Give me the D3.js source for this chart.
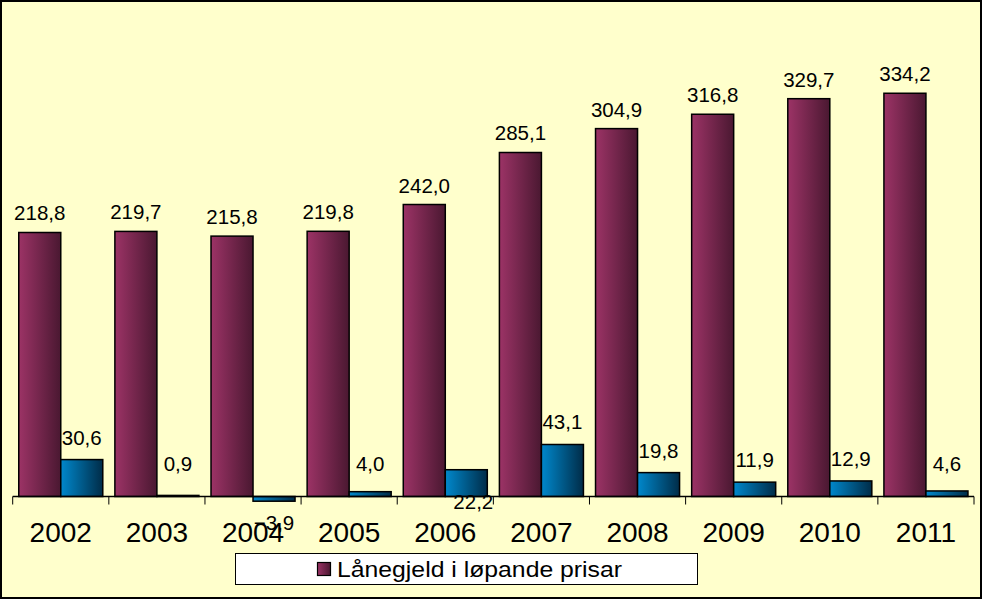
<!DOCTYPE html>
<html>
<head>
<meta charset="utf-8">
<script src="https://cdn.jsdelivr.net/npm/d3@7"></script>
<style>
html,body{margin:0;padding:0;background:#fff;}
svg{display:block;font-family:"Liberation Sans",Arial,sans-serif;}
</style>
</head>
<body>
<svg id="chart" width="982" height="599"></svg>
<script>
// ---- data ----
const years = ["2002","2003","2004","2005","2006","2007","2008","2009","2010","2011"];
const debt = [218.8,219.7,215.8,219.8,242.0,285.1,304.9,316.8,329.7,334.2];
const change = [30.6,0.9,-3.9,4.0,22.2,43.1,19.8,11.9,12.9,4.6];
const legendLabels = ["Lånegjeld i løpande prisar"];
const yDomain = [0, 400];

const svg = d3.select("#chart");
const W = 982, H = 599;

const locale = d3.formatLocale({decimal: ",", thousands: " ", grouping: [3], currency: ["", ""]});
const fmt = locale.format(".1f");

// gradients
const defs = svg.append("defs");
function grad(id, c1, c2) {
  const g = defs.append("linearGradient").attr("id", id).attr("x1", "0%").attr("x2", "100%").attr("y1", "0%").attr("y2", "0%");
  g.append("stop").attr("offset", "0%").attr("stop-color", c1);
  g.append("stop").attr("offset", "100%").attr("stop-color", c2);
}
grad("gMaroon", "#9c3366", "#4a1831");
grad("gBlue", "#0088cc", "#002c48");

// background
svg.append("rect").attr("x", 1).attr("y", 1).attr("width", W - 2).attr("height", H - 2)
  .attr("fill", "#ffffcc").attr("stroke", "#000").attr("stroke-width", 2);

const x = d3.scaleBand().domain(years).range([12.7, 974]).padding(0);
const xs = d3.scaleBand().domain(["debt", "change"]).range([0, x.bandwidth()]).paddingInner(0).paddingOuter(0.144);
const y = d3.scaleLinear().domain(yDomain).range([496.5, 13.86]);

const rows = years.map((yr, i) => ({yr, debt: debt[i], change: change[i]}));

// maroon bars
svg.append("g").selectAll("rect").data(rows).join("rect")
  .attr("x", d => x(d.yr) + xs("debt"))
  .attr("width", xs.bandwidth())
  .attr("y", d => y(d.debt))
  .attr("height", d => y(0) - y(d.debt))
  .attr("fill", "url(#gMaroon)").attr("stroke", "#000").attr("stroke-width", 1.5);

// blue bars
svg.append("g").selectAll("rect").data(rows).join("rect")
  .attr("x", d => x(d.yr) + xs("change"))
  .attr("width", xs.bandwidth())
  .attr("y", d => y(Math.max(0, d.change)))
  .attr("height", d => Math.abs(y(0) - y(d.change)))
  .attr("fill", "url(#gBlue)").attr("stroke", "#000").attr("stroke-width", 1.5);

// labels for maroon
svg.append("g").selectAll("text").data(rows).join("text")
  .attr("x", d => x(d.yr) + xs("debt") + xs.bandwidth() / 2)
  .attr("y", d => y(d.debt) - 12)
  .attr("text-anchor", "middle").attr("font-size", 20.5).attr("fill", "#000")
  .text(d => fmt(d.debt));

// axis
const ag = svg.append("g").attr("transform", `translate(0,${y(0)})`);
ag.append("line").attr("x1", 12.7).attr("x2", 974).attr("y1", 0).attr("y2", 0).attr("stroke", "#000").attr("stroke-width", 1.5);
const bounds = years.map(yr => x(yr)).concat([x(years[years.length - 1]) + x.bandwidth()]);
ag.selectAll("line.tick").data(bounds).join("line").attr("class", "tick")
  .attr("x1", d => d).attr("x2", d => d).attr("y1", 0).attr("y2", 8).attr("stroke", "#000").attr("stroke-width", 1);

// labels for blue (drawn before axis labels so axis text is on top)
svg.append("g").selectAll("text").data(rows).join("text")
  .attr("x", d => x(d.yr) + xs("change") + xs.bandwidth() / 2 + (d.yr === "2006" ? 7 : 0))
  .attr("y", d => {
    if (d.change < 0) return y(d.change) + 29;
    if (d.yr === "2006") return y(0) + 12;
    return Math.min(y(d.change) - 15, 471);
  })
  .attr("text-anchor", "middle").attr("font-size", 20.5).attr("fill", "#000")
  .text(d => fmt(d.change));

// category labels
svg.append("g").selectAll("text").data(years).join("text")
  .attr("x", d => x(d) + x.bandwidth() / 2)
  .attr("y", 541.5)
  .attr("text-anchor", "middle").attr("font-size", 28).attr("fill", "#000")
  .text(d => d);

// legend
const lg = svg.append("g");
lg.append("rect").attr("x", 235.5).attr("y", 553.5).attr("width", 462).attr("height", 31)
  .attr("fill", "#fff").attr("stroke", "#000").attr("stroke-width", 1);
lg.append("rect").attr("x", 317.5).attr("y", 562.5).attr("width", 13).attr("height", 13)
  .attr("fill", "url(#gMaroon)").attr("stroke", "#000").attr("stroke-width", 1.2);
lg.append("text").attr("x", 337).attr("y", 577).attr("font-size", 22.5).attr("fill", "#000")
  .attr("textLength", 285).attr("lengthAdjust", "spacingAndGlyphs")
  .text(legendLabels[0]);
</script>
</body>
</html>
